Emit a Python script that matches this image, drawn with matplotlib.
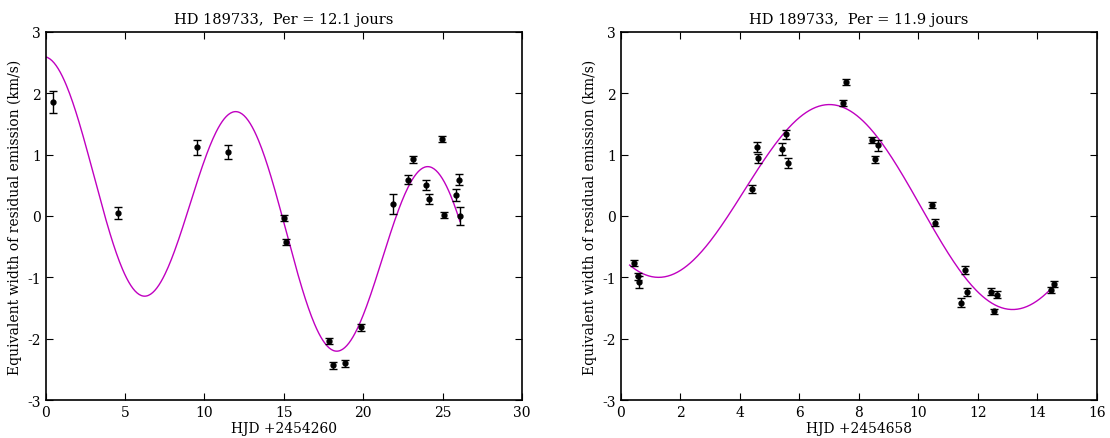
import numpy as np
import matplotlib
matplotlib.use('Agg')
import matplotlib.pyplot as plt

# 字体与刻度样式
plt.rcParams['font.family'] = ['DejaVu Serif']
plt.rcParams['font.size'] = 10
plt.rcParams['axes.unicode_minus'] = False

# ---- 左图数据 (HJD +2454260) ----
t1 = [0.46, 4.55, 9.53, 11.48, 14.99, 15.11, 17.84, 18.11, 18.83, 19.84,
      21.87, 22.82, 23.11, 23.93, 24.12, 24.96, 25.08, 25.84, 26.01, 26.09]
w1 = [1.86, 0.05, 1.12, 1.04, -0.03, -0.42, -2.03, -2.43, -2.40, -1.81,
      0.19, 0.59, 0.92, 0.50, 0.27, 1.26, 0.01, 0.34, 0.59, 0.00]
e1 = [0.18, 0.10, 0.12, 0.12, 0.05, 0.05, 0.05, 0.06, 0.05, 0.06,
      0.16, 0.07, 0.06, 0.08, 0.08, 0.05, 0.05, 0.10, 0.09, 0.14]

# ---- 右图数据 (HJD +2454658) ----
t2 = [0.44, 0.59, 0.63, 4.43, 4.57, 4.63, 5.42, 5.57, 5.62, 7.47, 7.57,
      8.46, 8.56, 8.64, 10.48, 10.58, 11.45, 11.56, 11.65, 12.46, 12.56,
      12.64, 14.45, 14.57]
w2 = [-0.77, -0.98, -1.07, 0.44, 1.12, 0.94, 1.09, 1.33, 0.86, 1.84, 2.18,
      1.24, 0.92, 1.15, 0.18, -0.11, -1.41, -0.88, -1.24, -1.23, -1.55,
      -1.28, -1.21, -1.11]
e2 = [0.05, 0.06, 0.10, 0.06, 0.08, 0.07, 0.10, 0.07, 0.08, 0.05, 0.05,
      0.05, 0.05, 0.09, 0.05, 0.06, 0.07, 0.06, 0.06, 0.05, 0.04,
      0.06, 0.05, 0.05]

# 拟合曲线参数 (周期 + 振幅 + 相位 + 线性趋势)
fit1 = dict(period=12.1, amp=1.72, t0=12.12, c0=0.87, slope=-0.074, tmin=0.0, tmax=26.09)
fit2 = dict(period=11.9, amp=1.535, t0=7.12, c0=0.59, slope=-0.044, tmin=0.30, tmax=14.55)

titles = ['HD 189733,  Per = 12.1 jours', 'HD 189733,  Per = 11.9 jours']
xlabels = ['HJD +2454260', 'HJD +2454658']
xlims = [(0, 30), (0, 16)]
xsteps = [5, 2]
ylabel = 'Equivalent width of residual emission (km/s)'


def model(t, p):
    return p['c0'] + p['slope'] * t + p['amp'] * np.cos(2 * np.pi * (t - p['t0']) / p['period'])


fig = plt.figure(figsize=(11.1, 4.39), dpi=100)
ax1 = fig.add_axes([0.0412, 0.0859, 0.4291, 0.8396])
ax2 = fig.add_axes([0.5592, 0.0859, 0.4288, 0.8396])

for ax, t, w, e, p, title, xl, lim, step in zip(
        [ax1, ax2], [t1, t2], [w1, w2], [e1, e2], [fit1, fit2],
        titles, xlabels, xlims, xsteps):
    tt = np.linspace(p['tmin'], p['tmax'], 400)
    ax.plot(tt, model(tt, p), color='#c000c0', lw=1.0)
    ax.errorbar(t, w, yerr=e, fmt='o', color='black', ms=3.5,
                capsize=3, elinewidth=1.0, capthick=1.0)
    ax.set_xlim(*lim)
    ax.set_ylim(-3, 3)
    ax.set_xticks(np.arange(lim[0], lim[1] + 0.1, step))
    ax.set_yticks(np.arange(-3, 4, 1))
    ax.tick_params(direction='in', top=True, right=True, length=5, labelsize=10)
    ax.set_title(title, fontsize=10.5)
    ax.set_xlabel(xl, fontsize=10, labelpad=1)
    ax.set_ylabel(ylabel, fontsize=10, labelpad=4)
    for s in ax.spines.values():
        s.set_linewidth(1.2)

plt.savefig('out.png', dpi=100)
